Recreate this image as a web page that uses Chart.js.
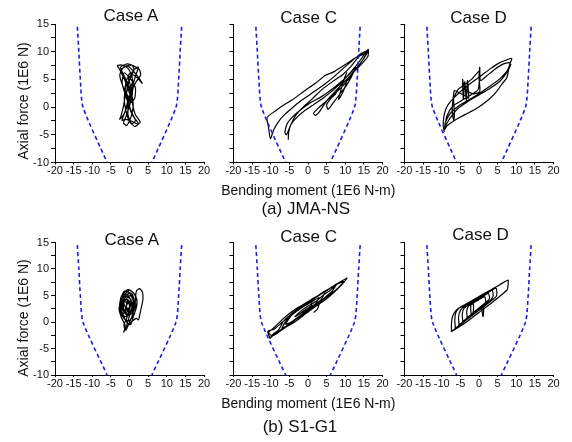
<!DOCTYPE html>
<html>
<head>
<meta charset="utf-8">
<script src="https://cdn.jsdelivr.net/npm/chart.js@4.4.1/dist/chart.umd.min.js"></script>
<style>
  html, body { margin: 0; padding: 0; background: #fff; }
  #wrap { position: relative; width: 572px; height: 442px; overflow: hidden; font-family: "Liberation Sans", Arial, sans-serif; color: #111; }
  canvas { position: absolute; }
  .t { position: absolute; white-space: nowrap; line-height: 1; transform: translateX(-50%); }
  .yt { position: absolute; white-space: nowrap; line-height: 1; font-size: 14px; transform: translate(-50%, -50%) rotate(-90deg); }
</style>
</head>
<body>
<div id="wrap">
  <canvas id="c1"></canvas><canvas id="c2"></canvas><canvas id="c3"></canvas>
  <canvas id="c4"></canvas><canvas id="c5"></canvas><canvas id="c6"></canvas>
</div>
<script>
// ---------- tick labels ----------
const xTickValues = [-20, -15, -10, -5, 0, 5, 10, 15, 20];
const yTickValues = [-10, -5, 0, 5, 10, 15];

// ---------- panel titles / captions ----------
const caseTitles = ["Case A", "Case C", "Case D"];
const rowCaptions = ["(a) JMA-NS", "(b) S1-G1"];
const xAxisTitle = "Bending moment (1E6 N-m)";
const yAxisTitle = "Axial force (1E6 N)";

// ---------- interaction diagram (blue dashed) ----------
const envForce = [14.5, 10, 5, 0, -10];
const envLeftMoment = [-14, -13.6, -13.2, -12.5, -6];
const envRightMoment = [14, 13.6, 13.2, 12.5, 6];

// ---------- response curves [moment, axial force] ----------
const jmaCaseA = [[0.2,2.0],[-0.6,3.8],[-1.8,5.6],[-2.8,7.0],[-3.3,7.5],[-2,7.6],[-0.4,7.0],[0.6,5.6],[1.0,3.8],[0.6,2.0],[0.0,0.2],[-0.9,-1.6],[-1.6,-2.9],[-0.7,-3.3],[0.4,-1.8],[1.0,0.4],[0.4,2.8],[-1.0,5.0],[-2.4,7.2],[-0.6,7.8],[1.2,7.4],[2.6,6.8],[3.0,5.8],[1.8,4.6],[0.6,3.0],[-0.4,1.2],[-1.2,-0.8],[-2.0,-2.4],[-1.0,-2.2],[0.8,-2.6],[2.2,-3.1],[2.9,-2.7],[1.6,-1.4],[0.8,0.6],[0.3,2.6],[-0.8,4.6],[-2.2,6.8],[-0.4,7.4],[1.4,6.2],[2.8,5.0],[3.4,4.3],[2.2,5.2],[0.8,5.8],[-0.6,5.2],[-1.2,3.2],[-0.4,1.0],[0.4,-0.6],[1.4,-2.0],[2.4,-3.0],[1.4,-3.5],[0.0,-2.6],[-1.0,-0.6],[-1.4,1.6],[-1.0,3.6],[0.2,5.2],[1.2,6.8],[0.6,7.6],[-1.6,7.2],[-2.6,5.8],[-1.8,3.8],[-0.6,2.2],[0.4,1.4],[0.8,2.6],[0.2,3.8],[-0.6,3.0],[-1.2,1.8],[-1.6,0.2],[-2.2,-1.4],[-2.6,-2.2],[-1.6,-1.4],[-0.6,0.2],[0.0,1.6],[0.6,3.2],[1.6,5.6],[2.4,7.2],[1.0,6.6],[-0.2,4.4],[-0.8,2.4],[0.2,0.8],[1.4,1.6],[1.6,3.4],[0.6,4.8],[-1.4,6.2],[-2.0,4.4],[-1.0,2.0],[-0.2,0.4],[0.6,-1.2],[1.6,-2.4],[0.6,-3.0],[-0.4,-1.4],[-0.2,0.8],[0.6,2.2],[0.2,4.0],[-0.4,5.6],[0.4,6.2],[0.8,4.6],[0.0,3.2],[-0.6,4.4],[0.2,5.0]];

const jmaCaseC = [[-5.3,-5.9],[-5.2,-4.6],[-4.6,-3.2],[-3.2,-2.0],[-1.2,-0.8],[1.4,0.4],[4.0,1.6],[7.0,3.2],[10.0,5.2],[12.6,7.2],[14.6,9.0],[15.8,10.2],[16.2,10.4],[16.1,9.2],[15.0,8.2],[13.4,7.1],[11.4,5.7],[9.4,4.3],[7.4,2.9],[5.6,1.6],[4.2,0.3],[3.0,-0.9],[2.0,-1.5],[1.5,-1.1],[2.6,-0.3],[4.6,0.9],[7.0,2.3],[9.0,3.6],[11.0,5.1],[13.0,7.0],[15.0,8.8],[16.2,10.3],[13.0,9.0],[10.0,7.7],[7.0,6.4],[4.6,5.7],[2.0,4.3],[-1.0,2.9],[-4.0,1.4],[-6.2,0.5],[-8.6,-0.6],[-11.0,-1.9],[-10.6,-3.6],[-10.1,-5.7],[-9.2,-4.1],[-8.0,-2.7],[-6.5,-1.5],[-4.5,-0.3],[-2.0,1.1],[1.0,2.5],[4.0,3.9],[7.0,5.5],[10.0,7.3],[12.6,8.8],[14.6,9.8],[15.9,10.1],[14.6,8.4],[12.2,6.4],[10.6,5.0],[9.8,3.4],[9.0,2.2],[8.2,1.4],[8.8,3.0],[9.6,4.8],[10.4,6.2],[9.6,5.0],[8.4,3.6],[7.4,2.4],[6.2,1.6],[5.0,0.4],[5.4,-0.4],[6.8,0.8],[8.6,2.4],[10.2,3.8],[11.6,5.4],[12.8,7.2],[11.2,6.0],[8.6,4.4],[6.0,3.0],[3.4,1.8],[0.6,0.8],[-2.2,-0.6],[-4.2,-1.8],[-5.6,-3.0],[-6.2,-4.6],[-5.8,-5.0],[-5.0,-3.8],[-3.6,-1.8],[-1.6,-0.2],[1.0,1.4],[3.8,3.2],[6.6,4.6],[9.2,5.8],[11.6,7.4],[13.8,9.2],[15.2,9.6]];

const jmaCaseD = [[-9.3,-4.5],[-9.6,-3.4],[-9.4,-1.6],[-8.8,-0.2],[-7.8,0.9],[-6.4,1.9],[-4.8,2.9],[-3.0,3.9],[-1.0,4.9],[1.0,5.9],[3.0,6.9],[5.0,7.8],[7.0,8.4],[8.8,8.8],[8.2,7.6],[7.8,6.2],[7.4,5.2],[6.2,4.2],[4.6,2.7],[3.0,1.6],[1.0,0.5],[-1.0,-0.4],[-3.0,-1.1],[-5.0,-1.8],[-7.0,-2.6],[-8.6,-3.4],[-9.2,-4.0],[-9.0,-2.8],[-8.0,-1.4],[-6.6,-0.4],[-4.6,0.6],[-2.0,1.6],[0.6,2.7],[3.0,3.8],[5.4,5.0],[7.4,6.4],[8.4,8.0],[6.6,7.8],[4.2,6.8],[2.0,5.6],[0.4,4.8],[0.2,7.2],[0.0,5.4],[0.2,2.8],[-1.4,2.4],[-3.0,2.8],[-4.0,3.6],[-4.4,5.0],[-4.2,1.4],[-3.8,4.6],[-3.4,1.2],[-3.1,4.8],[-2.8,1.6],[-3.6,2.0],[-5.4,2.6],[-6.6,3.0],[-7.0,1.2],[-7.2,-0.8],[-6.8,-2.4],[-6.6,-0.8],[-6.8,1.6],[-5.6,3.2],[-4.0,4.0],[-2.0,5.0],[0.0,6.4],[-0.2,3.2],[-2.2,2.2],[-4.6,1.2],[-7.0,0.2],[-8.6,-1.6],[-9.2,-3.6],[-8.0,-2.2],[-5.6,-0.2],[-3.0,1.0],[0.0,2.2],[3.0,3.4],[5.8,4.8],[7.8,6.6],[8.6,7.8]];

const s1CaseA = [[-1.4,-1.8],[-1.2,-0.6],[-2.2,0.9],[-2.8,2.5],[-2.2,4.1],[-1.3,5.6],[-0.4,6.1],[0.6,5.8],[1.5,5.0],[2.0,3.8],[1.5,2.0],[0.8,0.5],[0.3,-0.5],[-0.8,0.0],[-1.8,1.5],[-2.5,3.0],[-1.8,4.6],[-0.8,5.2],[0.6,5.4],[1.2,4.2],[0.8,2.8],[0.0,1.2],[-1.0,-1.2],[-1.6,-1.9],[-0.6,-0.8],[0.8,0.2],[1.8,0.7],[2.4,0.4],[2.7,1.2],[3.2,2.8],[3.6,4.2],[3.5,5.6],[2.7,6.3],[1.9,5.9],[1.6,4.6],[1.5,3.0],[0.8,1.8],[-0.4,1.2],[-1.6,2.0],[-2.4,3.2],[-2.0,4.8],[-1.0,5.8],[0.0,5.5],[1.0,4.5],[1.4,3.2],[0.6,2.0],[-0.6,2.2],[-1.5,3.5],[-1.0,4.8],[0.0,4.6],[0.5,3.4],[-0.2,2.6],[-1.0,2.2],[-2.0,2.8],[-1.5,4.0],[-0.4,4.2],[0.2,3.0],[-0.8,0.6],[-1.5,-0.6],[-1.0,-1.6],[-0.2,-0.4],[0.6,1.0],[1.2,2.4],[0.6,3.8],[-0.4,5.0],[-1.6,5.2],[-2.6,3.6],[-2.4,1.8],[-1.4,0.6],[-0.2,0.2],[1.0,1.2],[1.8,2.6],[2.0,4.2],[1.2,5.4],[0.0,6.0],[-1.0,5.4],[-1.8,3.4],[-1.2,1.6],[0.0,1.6],[0.8,2.6],[0.4,4.0],[-0.6,3.4],[-1.0,2.6],[-2.0,1.2],[-2.6,2.4],[-2.4,4.4],[-1.4,5.8],[-0.2,5.6],[0.8,4.6],[1.0,3.0],[0.2,1.8],[-1.2,1.0],[-2.2,2.0],[-2.0,3.8],[-0.8,4.8],[0.4,4.2],[0.6,2.6],[-0.4,1.6],[-1.6,2.4],[-1.4,3.8],[-0.2,3.6],[0.0,2.4],[-1.0,1.8],[-1.8,3.0],[-1.0,4.2],[0.2,5.0],[1.2,3.8],[0.4,2.2],[-0.8,2.8],[-0.6,4.0],[0.4,3.4]];

const s1CaseC = [[-10.2,-3.1],[-10.8,-1.8],[-9.0,-1.3],[-7.0,-0.1],[-5.0,1.1],[-3.0,2.1],[-1.0,3.3],[1.0,4.3],[3.0,5.1],[5.0,5.9],[7.0,6.9],[9.0,7.7],[10.5,8.3],[9.0,7.0],[7.0,5.6],[5.0,4.4],[3.0,3.4],[1.0,2.4],[-1.0,1.4],[-3.0,0.6],[-5.0,-0.4],[-7.0,-1.3],[-9.0,-2.3],[-10.2,-3.1],[-9.4,-2.3],[-8.0,-1.6],[-6.5,0.2],[-4.0,1.8],[-2.0,2.8],[0.0,3.6],[2.0,4.6],[4.0,5.6],[6.0,6.4],[7.5,7.0],[6.5,5.8],[4.5,4.6],[2.5,3.4],[0.5,2.4],[-1.5,1.4],[-3.5,0.4],[-5.5,-0.6],[-7.0,-1.2],[-5.5,0.6],[-3.5,1.8],[-1.5,2.8],[0.5,3.8],[2.5,4.8],[4.5,5.6],[3.5,4.2],[1.5,3.0],[-0.5,2.0],[-2.5,1.0],[-4.5,0.0],[-6.0,-0.4],[-4.5,1.2],[-2.5,2.4],[-0.5,3.2],[1.5,4.0],[3.0,4.6],[2.0,3.4],[0.0,2.6],[-2.0,1.6],[-3.5,1.0],[-2.0,2.0],[0.0,3.0],[2.0,3.8],[4.0,5.0],[6.0,6.0],[8.0,7.2],[9.5,7.6],[8.0,6.4],[6.0,5.2],[4.0,4.2],[2.0,3.0],[0.0,1.9],[-2.0,0.8],[-4.0,-0.2],[-6.0,-1.0],[-8.0,-2.0],[-9.6,-2.6],[-10.6,-2.0],[-9.0,-1.0],[-7.0,0.4],[-5.0,1.6],[-3.0,2.6],[-1.0,3.4],[0.5,4.0],[1.0,3.2],[-0.5,2.4],[-2.5,1.4],[-1.0,2.0],[1.0,2.8],[3.0,3.6],[2.5,2.4],[1.5,1.8]];

const s1CaseD = [[-7.4,-1.8],[-7.4,-0.5],[-7.2,0.8],[-6.6,1.8],[-5.5,2.6],[-3.0,3.6],[0.0,4.8],[3.0,6.0],[5.5,7.0],[7.8,7.9],[7.8,7.0],[7.6,6.1],[6.0,5.1],[3.0,3.4],[0.0,1.8],[-3.0,0.2],[-5.5,-1.0],[-7.4,-1.8],[-6.4,-1.2],[-6.5,0.2],[-6.3,1.6],[-5.4,2.6],[-3.0,3.4],[0.0,4.6],[2.5,5.6],[4.5,6.4],[4.8,5.6],[4.6,4.8],[2.5,3.6],[0.0,2.2],[-3.0,0.6],[-5.0,-0.5],[-6.4,-1.2],[-5.4,-0.6],[-5.5,0.8],[-5.0,2.2],[-3.5,3.2],[-1.0,4.2],[1.5,5.2],[3.5,6.0],[3.8,5.0],[3.2,4.2],[1.0,3.0],[-1.5,1.6],[-3.5,0.5],[-5.4,-0.6],[-4.4,0.0],[-4.5,1.4],[-4.0,2.6],[-2.0,3.6],[0.5,4.6],[2.5,5.4],[2.8,4.4],[1.0,3.2],[-1.5,1.8],[-4.4,0.0],[-3.2,0.6],[-3.3,2.0],[-2.8,3.0],[-0.5,4.0],[1.5,4.8],[1.8,3.8],[0.8,2.6],[1.1,1.0],[1.2,2.8],[0.0,2.6],[-2.0,1.4],[-2.2,3.2],[-1.5,3.4],[-1.6,1.8],[-3.2,0.6]];

// ---------- layout (pixels) ----------
const colLeft = [0, 178, 349];      // canvas left per column
const colAxisW = [55, 55.5, 55.5];  // y-axis box width
const rowTop = [14, 232];           // canvas top per row
const rowPadTop = [10, 10.5];
const rowPlotH = [138.5, 132.5];
const X_AXIS_H = 20;
const PAD_RIGHT = 14;
const PLOT_W = 149;

const fontFamily = '"Liberation Sans", Arial, sans-serif';
const txtColor = '#111';

function makePanel(id, row, col, curve) {
  const cv = document.getElementById(id);
  const w = Math.ceil(colAxisW[col] + PLOT_W + PAD_RIGHT);
  const h = Math.ceil(rowPadTop[row] + rowPlotH[row] + X_AXIS_H);
  cv.width = w; cv.height = h;
  cv.style.width = w + 'px'; cv.style.height = h + 'px';
  cv.style.left = colLeft[col] + 'px'; cv.style.top = rowTop[row] + 'px';
  const padRight = w - colAxisW[col] - PLOT_W;
  const padBottom = h - rowPadTop[row] - rowPlotH[row] - X_AXIS_H;
  const showY = col === 0;
  new Chart(cv, {
    type: 'scatter',
    data: {
      datasets: [
        { data: envLeftMoment.map((m, i) => ({ x: m, y: envForce[i] })), showLine: true, borderColor: '#1c1ce8', borderWidth: 1.6, borderDash: [4, 3], pointRadius: 0, tension: 0.2, fill: false },
        { data: envRightMoment.map((m, i) => ({ x: m, y: envForce[i] })), showLine: true, borderColor: '#1c1ce8', borderWidth: 1.6, borderDash: [4, 3], pointRadius: 0, tension: 0.2, fill: false },
        { data: curve.map(([m, n]) => ({ x: m, y: n })), showLine: true, borderColor: '#000', borderWidth: 1.2, pointRadius: 0, tension: 0.2, fill: false }
      ]
    },
    options: {
      responsive: false, animation: false, devicePixelRatio: 1,
      layout: { padding: { left: 0, top: rowPadTop[row], right: padRight, bottom: padBottom } },
      plugins: { legend: { display: false }, tooltip: { enabled: false }, title: { display: false } },
      scales: {
        x: {
          type: 'linear', min: -20, max: 20,
          afterFit: s => { s.height = X_AXIS_H; },
          border: { display: true, color: '#000', width: 1 },
          grid: { drawOnChartArea: false, drawTicks: true, tickLength: 2, color: '#000' },
          ticks: { stepSize: 5, autoSkip: false, maxRotation: 0, minRotation: 0, padding: 0, color: txtColor,
                   font: { size: 11, family: fontFamily },
                   callback: v => xTickValues.includes(v) ? String(v) : '' }
        },
        y: {
          type: 'linear', min: -10, max: 15,
          afterFit: s => { s.width = colAxisW[col]; },
          border: { display: true, color: '#000', width: 1 },
          grid: { drawOnChartArea: false, drawTicks: true, tickLength: 4, color: '#000' },
          ticks: { stepSize: 2.5, autoSkip: false, padding: 2, color: txtColor,
                   font: { size: 11, family: fontFamily },
                   callback: v => (showY && yTickValues.includes(v)) ? String(v) : '' }
        }
      }
    }
  });
}

makePanel('c1', 0, 0, jmaCaseA);
makePanel('c2', 0, 1, jmaCaseC);
makePanel('c3', 0, 2, jmaCaseD);
makePanel('c4', 1, 0, s1CaseA);
makePanel('c5', 1, 1, s1CaseC);
makePanel('c6', 1, 2, s1CaseD);

// ---------- HTML text ----------
const wrap = document.getElementById('wrap');
function addText(txt, cx, baseline, size) {
  const d = document.createElement('div');
  d.className = 't';
  d.textContent = txt;
  d.style.fontSize = size + 'px';
  d.style.left = cx + 'px';
  d.style.top = (baseline - 0.8465 * size) + 'px';
  wrap.appendChild(d);
}
function addYTitle(txt, cx, cy) {
  const d = document.createElement('div');
  d.className = 'yt';
  d.textContent = txt;
  d.style.left = cx + 'px';
  d.style.top = cy + 'px';
  wrap.appendChild(d);
}
const titleX = [[131, 308.7, 478.5], [131.8, 308.7, 480.5]];
const titleBase = [[21, 23, 23], [245.5, 242, 240]];
for (let r = 0; r < 2; r++) for (let c = 0; c < 3; c++) addText(caseTitles[c], titleX[r][c], titleBase[r][c], 17);
addText(xAxisTitle, 308.3, 195, 14);
addText(xAxisTitle, 308.3, 408.3, 14);
addText(rowCaptions[0], 305.8, 214.5, 17);
addText(rowCaptions[1], 300, 432.4, 17);
addYTitle(yAxisTitle, 23, 101);
addYTitle(yAxisTitle, 23, 317.5);
</script>
</body>
</html>
